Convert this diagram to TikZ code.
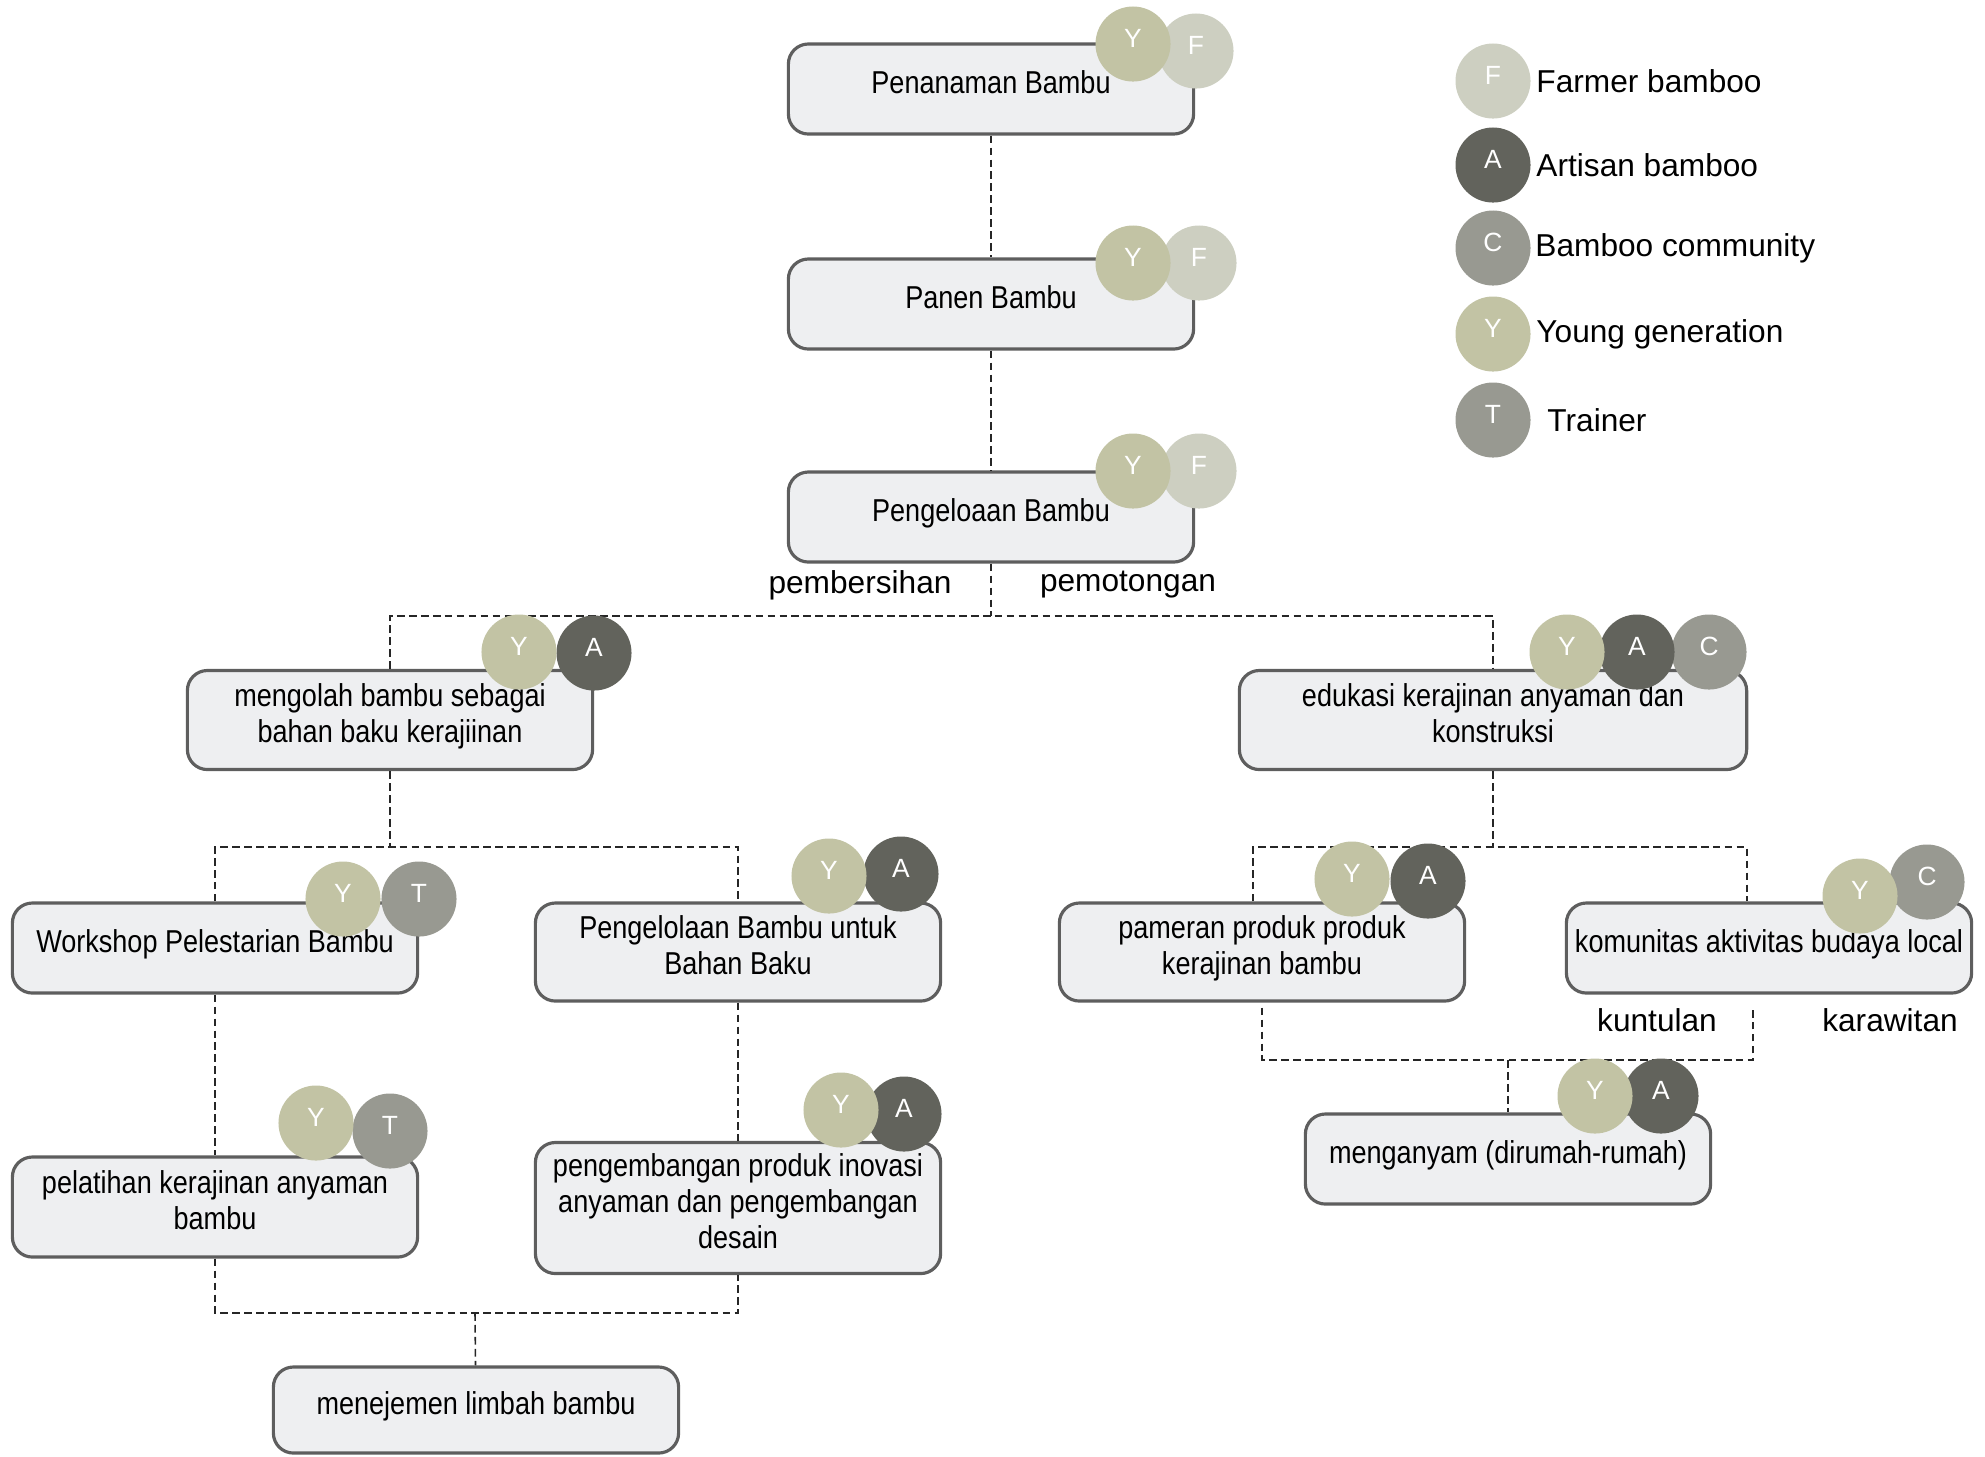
\documentclass[tikz,border=0pt]{standalone}
\usepackage{fontspec}
\setmainfont{Liberation Sans}
\newfontfamily\boxfont[FakeStretch=0.855]{Liberation Sans}
\usetikzlibrary{positioning}
\definecolor{boxfill}{HTML}{EEEFF1}
\definecolor{boxline}{HTML}{5E5E5E}
\definecolor{youngcol}{HTML}{C2C3A4}
\definecolor{farmercol}{HTML}{CDCFC1}
\definecolor{artisancol}{HTML}{62635C}
\definecolor{commcol}{HTML}{989991}
\definecolor{trainercol}{HTML}{989991}

\begin{document}
\begin{tikzpicture}[x=0.01cm,y=-0.01cm,
    stage/.style={draw=boxline,fill=boxfill,line width=0.9pt,rounded corners=0.2cm,minimum width=4.05cm,minimum height=0.9cm,align=center,inner sep=2pt,text depth=0.14cm,font=\boxfont\fontsize{9}{10.1}\selectfont},
    badge/.style={circle,minimum size=0.75cm,inner sep=0pt,text=white,text depth=0.12cm,font=\fontsize{7.5}{9}\selectfont},
    bY/.style={badge,fill=youngcol},
    bF/.style={badge,fill=farmercol},
    bA/.style={badge,fill=artisancol},
    bC/.style={badge,fill=commcol},
    bT/.style={badge,fill=trainercol},
    link/.style={draw=black!85,line width=0.45pt,dash pattern=on 2.2pt off 1.2pt},
    tag/.style={font=\fontsize{9}{10.5}\selectfont,inner sep=1pt}]
    \useasboundingbox (0,0) rectangle (1985,1456);

    \coordinate (s1) at (991,616);
    \coordinate (s2) at (390,847);
    \coordinate (s3) at (1493,847);
    \coordinate (s4) at (475,1313);
    \coordinate (s5) at (1508,1060);

    \node[stage] (tanam) at (991,89) {Penanaman Bambu};
    \node[stage] (panen) at (991,304) {Panen Bambu};
    \node[stage] (kelolaan) at (991,517) {Pengeloaan Bambu};
    \node[stage,minimum height=0.99cm] (olah) at (390,720) {mengolah bambu sebagai\\bahan baku kerajiinan};
    \node[stage,minimum width=5.07cm,minimum height=0.99cm] (edukasi) at (1493,720) {edukasi kerajinan anyaman dan\\konstruksi};
    \node[stage] (workshop) at (215,948) {Workshop Pelestarian Bambu};
    \node[stage,minimum height=0.98cm] (bahan) at (738,952) {Pengelolaan Bambu untuk\\Bahan Baku};
    \node[stage,minimum height=1cm] (pelatihan) at (215,1207) {pelatihan kerajinan anyaman\\bambu};
    \node[stage,minimum height=1.31cm] (inovasi) at (738,1208) {pengembangan produk inovasi\\anyaman dan pengembangan\\desain};
    \node[stage,minimum height=0.86cm] (limbah) at (476,1410) {menejemen limbah bambu};
    \node[stage,minimum height=0.98cm] (pameran) at (1262,952) {pameran produk produk\\kerajinan bambu};
    \node[stage] (budaya) at (1769,948) {komunitas aktivitas budaya local};
    \node[stage] (anyam) at (1508,1159) {menganyam (dirumah-rumah)};

    \draw[link] (tanam) -- (panen);
    \draw[link] (panen) -- (kelolaan);
    \draw[link] (kelolaan) -- (s1);
    \draw[link] (olah) |- (s1) -| (edukasi);
    \draw[link] (olah) -- (s2);
    \draw[link] (workshop) |- (s2) -| (bahan);
    \draw[link] (edukasi) -- (s3);
    \draw[link] ([xshift=-0.09cm]pameran.north) |- (s3) -| ([xshift=-0.22cm]budaya.north);
    \draw[link] (workshop) -- (pelatihan);
    \draw[link] (bahan) -- (inovasi);
    \draw[link] (pelatihan) |- (s4) -| (inovasi);
    \draw[link] (s4) -- (limbah);
    \draw[link] ([yshift=-0.05cm]pameran.south) |- (s5) -| ([xshift=-0.16cm,yshift=-0.12cm]budaya.south);
    \draw[link] (s5) -- (anyam);

    \node[tag] (bersih) at (860,585) {pembersihan};
    \node[tag] (potong) at (1128,585) {pemotongan};
    \node[tag] (kuntul) at (1657,1020) {kuntulan};
    \node[tag] (karawit) at (1890,1020) {karawitan};

    \node[bF] (tanamF) at (1196,51) {F};
    \node[bY] (tanamY) at (1133,44) {Y};
    \node[bF] (panenF) at (1199,263) {F};
    \node[bY] (panenY) at (1133,263) {Y};
    \node[bF] (kelolaanF) at (1199,471) {F};
    \node[bY] (kelolaanY) at (1133,471) {Y};
    \node[bA] (olahA) at (594,653) {A};
    \node[bY] (olahY) at (519,652) {Y};
    \node[bC] (edukasiC) at (1709,652) {C};
    \node[bA] (edukasiA) at (1637,652) {A};
    \node[bY] (edukasiY) at (1567,652) {Y};
    \node[bT] (workshopT) at (419,899) {T};
    \node[bY] (workshopY) at (343,899) {Y};
    \node[bA] (bahanA) at (901,874) {A};
    \node[bY] (bahanY) at (829,876) {Y};
    \node[bT] (pelatihanT) at (390,1131) {T};
    \node[bY] (pelatihanY) at (316,1123) {Y};
    \node[bA] (inovasiA) at (904,1114) {A};
    \node[bY] (inovasiY) at (841,1110) {Y};
    \node[bA] (pameranA) at (1428,881) {A};
    \node[bY] (pameranY) at (1352,879) {Y};
    \node[bC] (budayaC) at (1927,882) {C};
    \node[bY] (budayaY) at (1860,896) {Y};
    \node[bA] (anyamA) at (1661,1096) {A};
    \node[bY] (anyamY) at (1595,1096) {Y};

    \node[bF] (keyF) at (1493,81) {F};
    \node[tag,right=0.01cm of keyF] (keyFt) {Farmer bamboo};
    \node[bA] (keyA) at (1493,165) {A};
    \node[tag,right=0.01cm of keyA] (keyAt) {Artisan bamboo};
    \node[bC] (keyC) at (1493,248) {C};
    \node[tag,right=0cm of keyC] (keyCt) {Bamboo community};
    \node[bY] (keyY) at (1493,334) {Y};
    \node[tag,right=0.01cm of keyY] (keyYt) {Young generation};
    \node[bT] (keyT) at (1493,420) {T};
    \node[tag,right=0.12cm of keyT] (keyTt) {Trainer};
\end{tikzpicture}
\end{document}
